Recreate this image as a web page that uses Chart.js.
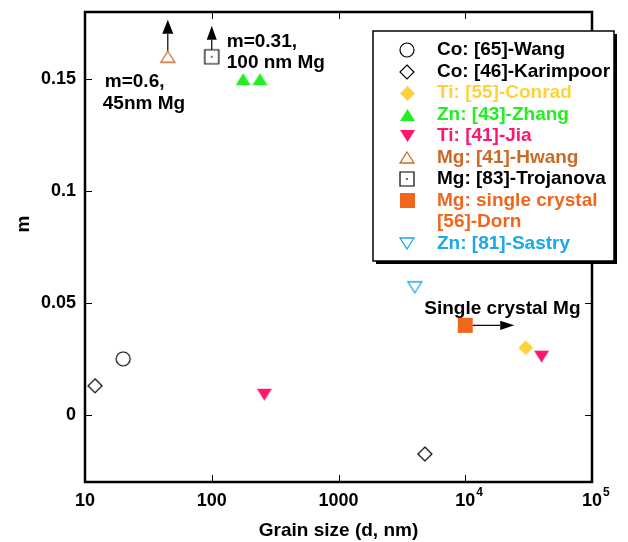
<!DOCTYPE html>
<html>
<head>
<meta charset="utf-8">
<script src="https://cdn.jsdelivr.net/npm/chart.js@4"></script>
<style>
  html, body { margin: 0; padding: 0; background: #fff; }
  #wrap { width: 628px; height: 542px; position: relative; }
</style>
</head>
<body>
<div id="wrap"><canvas id="c" width="628" height="542"></canvas></div>
<script>
// Grain size d (nm) and strain-rate sensitivity m, one pair of arrays per source
const wangD = [20];             const wangM = [0.025];
const karimpoorD = [12, 4800];  const karimpoorM = [0.013, -0.0175];
const conradD = [30000];        const conradM = [0.03];
const zhangD = [177, 240];      const zhangM = [0.15, 0.15];
const jiaD = [260, 40000];      const jiaM = [0.009, 0.026];
const hwangD = [45];            const hwangM = [0.6];
const trojanovaD = [100];       const trojanovaM = [0.31];
const dornD = [10000];          const dornM = [0.04];
const sastryD = [4000];         const sastryM = [0.057];

// Axis ranges and tick labels
const xRange = [10, 100000];
const yRange = [-0.03, 0.18];
const xTicks = [10, 100, 1000, 10000, 100000];
const xTickLabels = [['10', ''], ['100', ''], ['1000', ''], ['10', '4'], ['10', '5']];
const yTicks = [0, 0.05, 0.1, 0.15];
const yTickLabels = ['0', '0.05', '0.1', '0.15'];
// m values above the top of the axis are parked at this level with an up arrow
const offScaleM = 0.16;

const FONT = '"Liberation Sans", Arial, Helvetica, sans-serif';

// Marker glyphs drawn once into small canvases
function marker(shape, w, h, fill, stroke, lw, dot) {
  const pad = 2;
  const c = document.createElement('canvas');
  c.width = Math.round(w + 2 * pad);
  c.height = Math.round(h + 2 * pad);
  const g = c.getContext('2d');
  const cx = c.width / 2, cy = c.height / 2;
  g.beginPath();
  if (shape === 'circle') {
    g.arc(cx, cy, w / 2, 0, Math.PI * 2);
  } else if (shape === 'diamond') {
    g.moveTo(cx, cy - h / 2); g.lineTo(cx + w / 2, cy);
    g.lineTo(cx, cy + h / 2); g.lineTo(cx - w / 2, cy); g.closePath();
  } else if (shape === 'up') {
    g.moveTo(cx, cy - h / 2); g.lineTo(cx + w / 2, cy + h / 2);
    g.lineTo(cx - w / 2, cy + h / 2); g.closePath();
  } else if (shape === 'down') {
    g.moveTo(cx, cy + h / 2); g.lineTo(cx + w / 2, cy - h / 2);
    g.lineTo(cx - w / 2, cy - h / 2); g.closePath();
  } else if (shape === 'square') {
    g.rect(cx - w / 2, cy - h / 2, w, h);
  }
  if (fill) { g.fillStyle = fill; g.fill(); }
  if (stroke) { g.strokeStyle = stroke; g.lineWidth = lw; g.stroke(); }
  if (dot) { g.fillStyle = stroke; g.fillRect(cx - 0.75, cy - 0.75, 1.5, 1.5); }
  return c;
}

const COLORS = {
  black: '#000000',
  conrad: '#ffd23c',
  zhang: '#22ee22',
  jia: '#ff1670',
  hwang: '#c96a26',
  dorn: '#f0661a',
  sastry: '#1aa8e6'
};

const mk = {
  wang: marker('circle', 14, 14, '#fff', COLORS.black, 1.2),
  karimpoor: marker('diamond', 14, 14, '#fff', COLORS.black, 1.2),
  conrad: marker('diamond', 15, 15, COLORS.conrad, null, 0),
  zhang: marker('up', 15, 12, COLORS.zhang, null, 0),
  jia: marker('down', 15, 12, COLORS.jia, null, 0),
  hwang: marker('up', 14, 11, '#fff', COLORS.hwang, 1.3),
  trojanova: marker('square', 14, 14, '#fff', COLORS.black, 1.2, true),
  dorn: marker('square', 15, 15, COLORS.dorn, null, 0),
  sastry: marker('down', 14, 11, '#fff', COLORS.sastry, 1.3)
};

function pts(ds, ms) {
  return ds.map((d, i) => ({ x: d, y: Math.min(ms[i], offScaleM) }));
}

const series = [
  { key: 'wang', lines: ['Co: [65]-Wang'], color: COLORS.black, data: pts(wangD, wangM) },
  { key: 'karimpoor', lines: ['Co: [46]-Karimpoor'], color: COLORS.black, data: pts(karimpoorD, karimpoorM) },
  { key: 'conrad', lines: ['Ti: [55]-Conrad'], color: COLORS.conrad, data: pts(conradD, conradM) },
  { key: 'zhang', lines: ['Zn: [43]-Zhang'], color: COLORS.zhang, data: pts(zhangD, zhangM) },
  { key: 'jia', lines: ['Ti: [41]-Jia'], color: COLORS.jia, data: pts(jiaD, jiaM) },
  { key: 'hwang', lines: ['Mg: [41]-Hwang'], color: COLORS.hwang, data: pts(hwangD, hwangM) },
  { key: 'trojanova', lines: ['Mg: [83]-Trojanova'], color: COLORS.black, data: pts(trojanovaD, trojanovaM) },
  { key: 'dorn', lines: ['Mg: single crystal', '[56]-Dorn'], color: COLORS.dorn, data: pts(dornD, dornM) },
  { key: 'sastry', lines: ['Zn: [81]-Sastry'], color: COLORS.sastry, data: pts(sastryD, sastryM) }
];

function arrow(ctx, x1, y1, x2, y2, headLen, headHalf) {
  const ang = Math.atan2(y2 - y1, x2 - x1);
  const bx = x2 - Math.cos(ang) * headLen, by = y2 - Math.sin(ang) * headLen;
  ctx.beginPath();
  ctx.moveTo(x1, y1); ctx.lineTo(bx, by);
  ctx.lineWidth = 1.2; ctx.strokeStyle = '#000'; ctx.stroke();
  ctx.beginPath();
  ctx.moveTo(x2, y2);
  ctx.lineTo(bx + Math.sin(ang) * headHalf, by - Math.cos(ang) * headHalf);
  ctx.lineTo(bx - Math.sin(ang) * headHalf, by + Math.cos(ang) * headHalf);
  ctx.closePath();
  ctx.fillStyle = '#000'; ctx.fill();
}

const decor = {
  id: 'decor',
  afterDatasetsDraw(chart) {
    const { ctx, chartArea: a, scales: { x, y } } = chart;
    ctx.save();

    // plot frame
    ctx.strokeStyle = '#000';
    ctx.lineWidth = 2.5;
    ctx.strokeRect(a.left, a.top, a.right - a.left, a.bottom - a.top);

    // inward ticks on all four sides
    const tl = 7;
    ctx.lineWidth = 1;
    ctx.beginPath();
    xTicks.forEach(v => {
      if (v <= xRange[0] || v >= xRange[1]) return;
      const px = Math.round(x.getPixelForValue(v)) + 0.5;
      ctx.moveTo(px, a.bottom); ctx.lineTo(px, a.bottom - tl);
      ctx.moveTo(px, a.top); ctx.lineTo(px, a.top + tl);
    });
    yTicks.forEach(v => {
      const py = Math.round(y.getPixelForValue(v)) + 0.5;
      ctx.moveTo(a.left, py); ctx.lineTo(a.left + tl, py);
      ctx.moveTo(a.right, py); ctx.lineTo(a.right - tl, py);
    });
    ctx.stroke();

    // tick labels
    ctx.fillStyle = '#000';
    ctx.font = 'bold 18px ' + FONT;
    ctx.textBaseline = 'middle';
    ctx.textAlign = 'right';
    yTicks.forEach((v, i) => {
      ctx.fillText(yTickLabels[i], a.left - 9, y.getPixelForValue(v));
    });
    xTicks.forEach((v, i) => {
      const [base, sup] = xTickLabels[i];
      const px = x.getPixelForValue(v);
      ctx.font = 'bold 18px ' + FONT;
      ctx.textAlign = 'center';
      ctx.fillText(base, px, a.bottom + 19);
      if (sup) {
        const bw = ctx.measureText(base).width;
        ctx.font = 'bold 12px ' + FONT;
        ctx.textAlign = 'left';
        ctx.fillText(sup, px + bw / 2 + 1, a.bottom + 11);
      }
    });

    // axis titles
    ctx.font = 'bold 19px ' + FONT;
    ctx.textAlign = 'center';
    ctx.fillText('Grain size (d, nm)', (a.left + a.right) / 2, a.bottom + 49);
    ctx.save();
    ctx.translate(24, 224);
    ctx.rotate(-Math.PI / 2);
    ctx.fillText('m', 0, 0);
    ctx.restore();

    // off-scale and single-crystal annotations
    ctx.font = 'bold 19px ' + FONT;
    ctx.textAlign = 'left';
    const hx = x.getPixelForValue(hwangD[0]), hy = y.getPixelForValue(Math.min(hwangM[0], offScaleM));
    arrow(ctx, hx, hy - 6, hx, hy - 37, 14, 5.5);
    ctx.fillStyle = '#000';
    ctx.fillText('m=' + hwangM[0] + ',', hx - 63, hy + 25);
    ctx.fillText(hwangD[0] + 'nm Mg', hx - 65, hy + 47);

    const tx = x.getPixelForValue(trojanovaD[0]), ty = y.getPixelForValue(Math.min(trojanovaM[0], offScaleM));
    arrow(ctx, tx, ty - 7, tx, ty - 31, 14, 5);
    ctx.fillStyle = '#000';
    ctx.fillText('m=' + trojanovaM[0] + ',', tx + 15, ty - 15);
    ctx.fillText(trojanovaD[0] + ' nm Mg', tx + 15, ty + 6);

    const dx = x.getPixelForValue(dornD[0]), dy = y.getPixelForValue(dornM[0]);
    arrow(ctx, dx + 7.5, dy, dx + 49, dy, 14, 4.6);
    ctx.fillStyle = '#000';
    ctx.fillText('Single crystal Mg', dx - 41, dy - 17);

    // legend panel with drop shadow
    const L = { x: 373, y: 31, w: 241, h: 230 };
    ctx.fillStyle = '#000';
    ctx.fillRect(L.x + 3, L.y + 3, L.w, L.h);
    ctx.fillStyle = '#fff';
    ctx.fillRect(L.x, L.y, L.w, L.h);
    ctx.strokeStyle = '#000';
    ctx.lineWidth = 1.5;
    ctx.strokeRect(L.x, L.y, L.w, L.h);

    const rowH = 21.5;
    let ry = L.y + 19;
    ctx.font = 'bold 19px ' + FONT;
    ctx.textAlign = 'left';
    ctx.textBaseline = 'middle';
    series.forEach(s => {
      const img = mk[s.key];
      ctx.drawImage(img, Math.round(L.x + 34 - img.width / 2), Math.round(ry - img.height / 2));
      ctx.fillStyle = s.color;
      s.lines.forEach((t, j) => ctx.fillText(t, L.x + 64, ry + j * rowH));
      ry += rowH * s.lines.length;
    });

    ctx.restore();
  }
};

new Chart(document.getElementById('c'), {
  type: 'scatter',
  data: {
    datasets: series.map(s => ({
      label: s.lines.join(' '),
      data: s.data,
      pointStyle: mk[s.key],
      pointRadius: 6,
      pointHoverRadius: 6,
      showLine: false
    }))
  },
  options: {
    responsive: false,
    animation: false,
    events: [],
    layout: { padding: { top: 12, right: 36, left: 0, bottom: 0 } },
    plugins: { legend: { display: false }, tooltip: { enabled: false } },
    scales: {
      x: {
        type: 'logarithmic',
        min: xRange[0], max: xRange[1],
        grid: { display: false }, border: { display: false },
        ticks: { display: false },
        afterBuildTicks: s => { s.ticks = xTicks.map(v => ({ value: v })); },
        afterFit: s => { s.height = 60; }
      },
      y: {
        type: 'linear',
        min: yRange[0], max: yRange[1],
        grid: { display: false }, border: { display: false },
        ticks: { display: false },
        afterBuildTicks: s => { s.ticks = yTicks.map(v => ({ value: v })); },
        afterFit: s => { s.width = 85; }
      }
    }
  },
  plugins: [decor]
});
</script>
</body>
</html>
